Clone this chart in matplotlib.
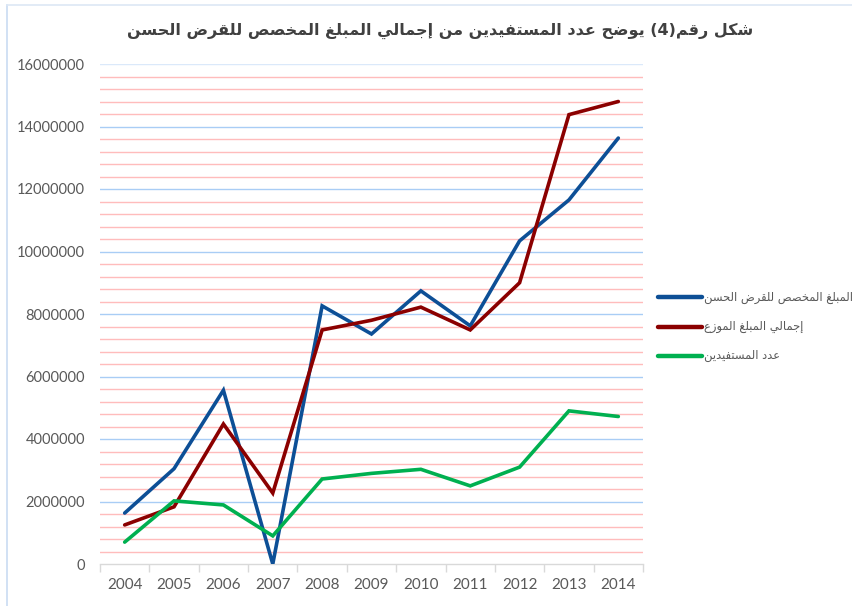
import re
import matplotlib
matplotlib.use("Agg")
import matplotlib.pyplot as plt
from matplotlib.lines import Line2D

# ---------------- data ----------------
years = ["2004", "2005", "2006", "2007", "2008", "2009", "2010", "2011", "2012", "2013", "2014"]
allocated = [1630000, 3050000, 5560000, 0, 8260000, 7360000, 8740000, 7620000, 10340000, 11650000, 13630000]
distributed = [1250000, 1830000, 4480000, 2270000, 7490000, 7800000, 8220000, 7490000, 9000000, 14380000, 14800000]
beneficiaries = [700000, 2020000, 1890000, 900000, 2720000, 2900000, 3030000, 2500000, 3100000, 4900000, 4720000]
series_names = ["المبلغ المخصص للقرض الحسن", "إجمالي المبلغ الموزع", "عدد المستفيدين"]
title_text = "شكل رقم(4) يوضح عدد المستفيدين من إجمالي المبلغ المخصص للقرض الحسن"
yticks = [0, 2000000, 4000000, 6000000, 8000000, 10000000, 12000000, 14000000, 16000000]

# ---------------- simple Arabic shaping (presentation forms + visual order) ----------------
_tbl = [(0x0621, 0xFE80, 1), (0x0622, 0xFE81, 2), (0x0623, 0xFE83, 2), (0x0624, 0xFE85, 2),
        (0x0625, 0xFE87, 2), (0x0626, 0xFE89, 4), (0x0627, 0xFE8D, 2), (0x0628, 0xFE8F, 4),
        (0x0629, 0xFE93, 2), (0x062A, 0xFE95, 4), (0x062B, 0xFE99, 4), (0x062C, 0xFE9D, 4),
        (0x062D, 0xFEA1, 4), (0x062E, 0xFEA5, 4), (0x062F, 0xFEA9, 2), (0x0630, 0xFEAB, 2),
        (0x0631, 0xFEAD, 2), (0x0632, 0xFEAF, 2), (0x0633, 0xFEB1, 4), (0x0634, 0xFEB5, 4),
        (0x0635, 0xFEB9, 4), (0x0636, 0xFEBD, 4), (0x0637, 0xFEC1, 4), (0x0638, 0xFEC5, 4),
        (0x0639, 0xFEC9, 4), (0x063A, 0xFECD, 4), (0x0641, 0xFED1, 4), (0x0642, 0xFED5, 4),
        (0x0643, 0xFED9, 4), (0x0644, 0xFEDD, 4), (0x0645, 0xFEE1, 4), (0x0646, 0xFEE5, 4),
        (0x0647, 0xFEE9, 4), (0x0648, 0xFEED, 2), (0x0649, 0xFEEF, 2), (0x064A, 0xFEF1, 4)]
FORMS = {}
for cp, start, n in _tbl:
    f = [chr(start + k) for k in range(n)] + [None] * (4 - n)
    FORMS[chr(cp)] = tuple(f)  # iso, fin, ini, med
LAMALEF = {"\u0622": ("\uFEF5", "\uFEF6"), "\u0623": ("\uFEF7", "\uFEF8"),
           "\u0625": ("\uFEF9", "\uFEFA"), "\u0627": ("\uFEFB", "\uFEFC")}


def _dual(c):
    return c in FORMS and FORMS[c][2] is not None


def shape(text):
    out = []
    i, n = 0, len(text)
    while i < n:
        c = text[i]
        if c not in FORMS:
            out.append(c); i += 1; continue
        prev = text[i - 1] if i > 0 else None
        jp = prev is not None and _dual(prev)
        if c == "\u0644" and i + 1 < n and text[i + 1] in LAMALEF:
            out.append(LAMALEF[text[i + 1]][1 if jp else 0]); i += 2; continue
        nxt = text[i + 1] if i + 1 < n else None
        jn = _dual(c) and nxt is not None and nxt in FORMS
        iso, fin, ini, med = FORMS[c]
        if jp and jn:
            out.append(med)
        elif jp:
            out.append(fin or iso)
        elif jn:
            out.append(ini)
        else:
            out.append(iso)
        i += 1
    s = "".join(out)
    toks = re.findall(r"[0-9]+|.", s)
    mirror = {"(": ")", ")": "("}
    return "".join(mirror.get(t, t) for t in reversed(toks))


# ---------------- figure ----------------
plt.rcParams["font.family"] = ["DejaVu Sans"]
AR_FONT = ["DejaVu Sans"]
NUM_FONT = ["Lato", "DejaVu Sans"]

fig = plt.figure(figsize=(8.53, 6.06), dpi=100)
fig.patch.set_facecolor("white")

# outer light border (left and top)
fig.add_artist(Line2D([7 / 853, 7 / 853], [0, 1 - 5 / 606], color="#c9dcf2", lw=1.2))
fig.add_artist(Line2D([7 / 853, 1], [1 - 5 / 606, 1 - 5 / 606], color="#dde8f5", lw=1.2))

ax = fig.add_axes([100 / 853, 42 / 606, 543 / 853, 500 / 606])
x = list(range(len(years)))

# grid
for v in range(0, 16000001, 400000):
    if v % 2000000 == 0:
        if v > 0:
            ax.axhline(v, color="#a9cdf5" if v < 16000000 else "#dbe9fa", lw=1.0, zorder=1)
    else:
        ax.axhline(v, color="#ffbcbc", lw=1.0, zorder=1)

colors = ["#0d4f96", "#8b0000", "#00b050"]
for vals, col, name in zip([allocated, distributed, beneficiaries], colors, series_names):
    ax.plot(x, vals, color=col, lw=2.6, solid_capstyle="round", solid_joinstyle="miter",
            zorder=3, label=name)

ax.set_xlim(-0.5, len(years) - 0.5)
ax.set_ylim(0, 16000000)
ax.set_yticks(yticks)
ax.set_yticklabels([str(v) for v in yticks], family=NUM_FONT)
ax.set_xticks(x)
ax.set_xticklabels(years, family=NUM_FONT)
ax.set_xticks([k - 0.5 for k in range(len(years) + 1)], minor=True)
ax.tick_params(axis="x", which="major", length=0, pad=10, labelsize=11, labelcolor="#595959")
ax.tick_params(axis="x", which="minor", length=6, color="#d9d9d9", width=1)
ax.tick_params(axis="y", length=0, pad=10.8, labelsize=10.5, labelcolor="#595959")
for s in ["top", "right", "left"]:
    ax.spines[s].set_visible(False)
ax.spines["bottom"].set_color("#d9d9d9")
ax.spines["bottom"].set_linewidth(1.0)
ax.set_facecolor("white")

# title
fig.text(440 / 853, 1 - 31 / 606, shape(title_text), ha="center", va="center",
         fontsize=11.5, fontweight="bold", color="#404040", family=AR_FONT)

# legend (manual, line left of text)
for k, (col, name) in enumerate(zip(colors, series_names)):
    yy = 1 - (297 + 29.5 * k) / 606
    fig.add_artist(Line2D([658 / 853, 702 / 853], [yy, yy], color=col, lw=3.2,
                          solid_capstyle="round"))
    fig.text(704 / 853, yy, shape(name), ha="left", va="center", fontsize=8.3,
             color="#595959", family=AR_FONT)

fig.savefig("out.png", dpi=100)
